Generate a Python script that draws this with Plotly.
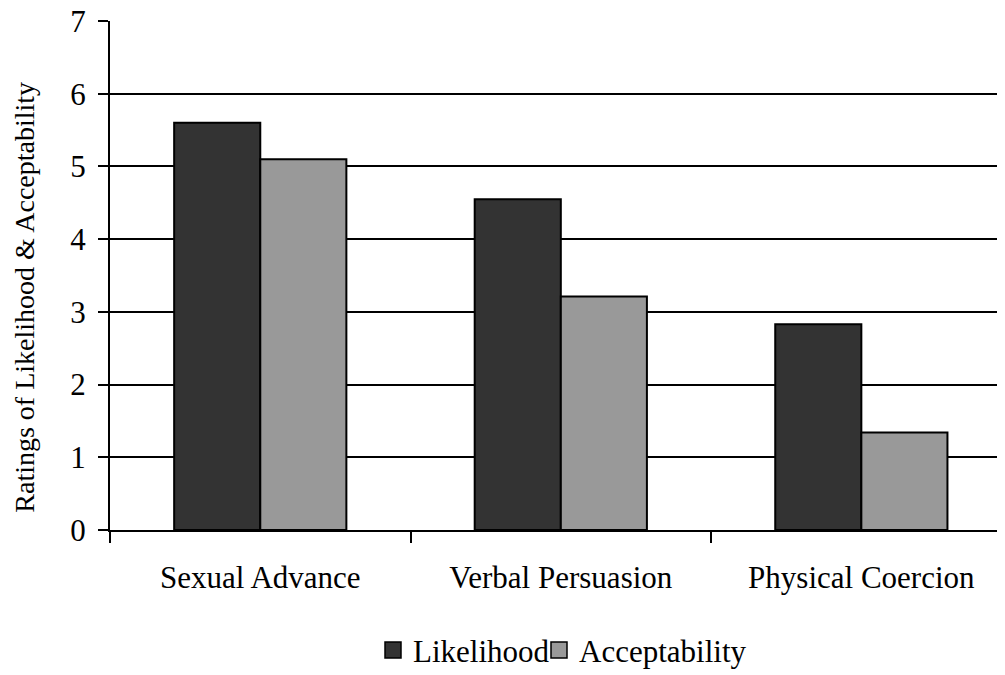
import plotly.graph_objects as go

categories = ["Sexual Advance", "Verbal Persuasion", "Physical Coercion"]
likelihood = [5.6, 4.55, 2.83]
acceptability = [5.1, 3.21, 1.34]
series_names = ["Likelihood", "Acceptability"]
series_colors = ["#333333", "#999999"]
y_ticks = [0, 1, 2, 3, 4, 5, 6, 7]

FONT = "Liberation Serif, Times New Roman, serif"

# page body has an 8px margin: figure is drawn at (8, 8)
W, H = 997, 667
L, T, B = 102, 13, 144.5
PW = W - L
PH = H - T - B


def px_x(page_x):
    return (page_x - 8 - L) / PW


def px_y(page_y):
    return (H - B - (page_y - 8)) / PH


fig = go.Figure()
for name, vals, col in zip(series_names, [likelihood, acceptability], series_colors):
    fig.add_trace(go.Bar(
        x=categories, y=vals, name=name, showlegend=False,
        marker=dict(color=col, line=dict(color="black", width=2)),
    ))
# legend entries with larger square symbols, one legend each
for i, (name, col) in enumerate(zip(series_names, series_colors)):
    fig.add_trace(go.Scatter(
        x=[None], y=[None], mode="markers", name=name,
        legend="legend" if i == 0 else "legend2",
        marker=dict(symbol="square", size=16, color=col,
                    line=dict(color="black", width=1.5)),
    ))

legend_common = dict(orientation="h", yanchor="middle", xanchor="left",
                     font=dict(family=FONT, size=31, color="black"),
                     itemsizing="trace", bgcolor="rgba(0,0,0,0)")

fig.update_layout(
    width=W, height=H,
    margin=dict(l=L, r=0, t=T, b=B, autoexpand=False),
    paper_bgcolor="white", plot_bgcolor="white",
    barmode="group", bargap=0.427, bargroupgap=0,
    font=dict(family=FONT, size=31, color="black"),
    showlegend=True,
    legend=dict(x=px_x(373), y=px_y(651), **legend_common),
    legend2=dict(x=px_x(539), y=px_y(651), **legend_common),
    xaxis=dict(
        type="category", range=[-0.5, 2.478], tickson="boundaries",
        ticks="outside", ticklen=11, tickwidth=2, tickcolor="black",
        showline=True, linecolor="black", linewidth=2,
        showgrid=False, zeroline=False,
        tickfont=dict(family=FONT, size=31), ticklabelstandoff=19,
    ),
    yaxis=dict(
        range=[0, 7], tickvals=y_ticks, ticks="outside", ticklen=10, tickwidth=2,
        tickcolor="black", showline=True, linecolor="black", linewidth=2,
        showgrid=True, gridcolor="black", gridwidth=2, zeroline=False,
        tickfont=dict(family=FONT, size=31), ticklabelstandoff=6,
        ticklabeloverflow="allow",
    ),
    annotations=[dict(
        text="Ratings of Likelihood & Acceptability", textangle=-90,
        xref="paper", yref="paper", x=px_x(25), y=px_y(298),
        xanchor="center", yanchor="middle", showarrow=False,
        font=dict(family=FONT, size=28, color="black"),
    )],
)

fig.write_html("out.html")
